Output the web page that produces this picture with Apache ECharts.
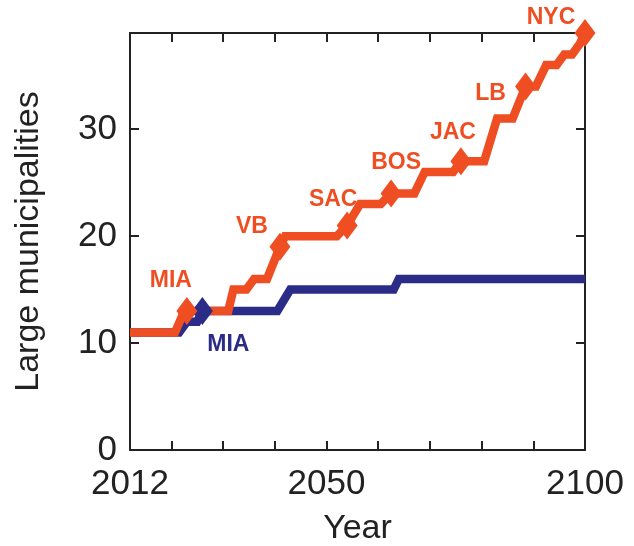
<!DOCTYPE html>
<html>
<head>
<meta charset="utf-8">
<script src="https://cdn.jsdelivr.net/npm/echarts@6/dist/echarts.min.js"></script>
<style>html,body{margin:0;padding:0;background:#fff;}#chart{width:634px;height:546px;}</style>
</head>
<body>
<div id="chart"></div>
<script>
// ---- data ----
const orangeYears  = [2012, 2020.7, 2022.5, 2023, 2031, 2032, 2034.5, 2036, 2038.5, 2041, 2042, 2052, 2054, 2056.5, 2060.5, 2062.5, 2067, 2068, 2069, 2074.5, 2076, 2080.5, 2083, 2086, 2088.5, 2090.5, 2092.5, 2094.5, 2096, 2097.5, 2099, 2100];
const orangeValues = [11,   11,     13,     13,   13,   15,   15,     16,   16,     19,   20,   20,   21,   23,     23,     24,     24,   25,   26,   26,     27,   27,     31,   31,   34,     34,     36,     36,     37,   37,     38,   39];
const blueYears  = [2012, 2021.5, 2023, 2025, 2026, 2040.5, 2043, 2063, 2064, 2100];
const blueValues = [11,   11,     12,   12,   13,   13,     15,   15,   16,   16];

const orangeMarkYears  = [2023, 2041, 2054, 2062.5, 2076, 2088.5, 2100];
const orangeMarkValues = [13,   19,   21,   24,     27,   34,     39];
const orangeMarkNames  = ['MIA', 'VB', 'SAC', 'BOS', 'JAC', 'LB', 'NYC'];
const blueMarkYears  = [2026];
const blueMarkValues = [13];
const blueMarkNames  = ['MIA'];

const xTickYears  = [2020, 2030, 2040, 2050, 2060, 2070, 2080, 2090];
const xLabelYears = [2012, 2050, 2100];
const yTickValues = [0, 10, 20, 30];

// ---- styles ----
const ORANGE = '#EF4E23';
const BLUE = '#2B2C88';
const AXIS = '#222';
const FONT = 'Liberation Sans, Arial, sans-serif';
const orangeLabelOffsets = [[-16,-30],[-28,-20],[-14,-26],[5,-31],[-8,-29],[-35,7],[-34,-15]];
const blueLabelOffsets = [[26,34]];

const zip = (xs, ys) => xs.map((x, i) => [x, ys[i]]);

function markData(xs, ys, names, offsets) {
  return xs.map((x, i) => ({
    value: [x, ys[i]],
    name: names[i],
    label: { offset: offsets[i] }
  }));
}

const axisLineStyle = { color: AXIS, width: 2 };
const plain = v => String(v);

const option = {
  animation: false,
  backgroundColor: '#fff',
  grid: { left: 130, right: 49, top: 33, bottom: 96, containLabel: false, outerBoundsMode: 'none' },
  xAxis: [
    {
      type: 'value', min: 2012, max: 2100, position: 'bottom',
      name: 'Year', nameLocation: 'middle', nameGap: 62,
      nameTextStyle: { fontFamily: FONT, fontSize: 34, color: AXIS },
      axisLine: { show: true, onZero: false, lineStyle: axisLineStyle },
      axisTick: { show: true, inside: true, length: 9, customValues: xTickYears, lineStyle: { color: AXIS, width: 2 } },
      axisLabel: { show: true, customValues: xLabelYears, formatter: plain, fontFamily: FONT, fontSize: 35, color: AXIS, margin: 17 },
      splitLine: { show: false }
    },
    {
      type: 'value', min: 2012, max: 2100, position: 'top',
      axisLine: { show: true, onZero: false, lineStyle: axisLineStyle },
      axisTick: { show: true, inside: true, length: 9, customValues: xTickYears, lineStyle: { color: AXIS, width: 2 } },
      axisLabel: { show: false },
      splitLine: { show: false }
    }
  ],
  yAxis: [
    {
      type: 'value', min: 0, max: 39, position: 'left',
      name: 'Large municipalities', nameLocation: 'middle', nameGap: 84,
      nameTextStyle: { fontFamily: FONT, fontSize: 34, color: AXIS },
      axisLine: { show: true, onZero: false, lineStyle: axisLineStyle },
      axisTick: { show: true, inside: true, length: 9, customValues: yTickValues, lineStyle: { color: AXIS, width: 2 } },
      axisLabel: { show: true, customValues: yTickValues, formatter: plain, fontFamily: FONT, fontSize: 35, color: AXIS, margin: 13 },
      splitLine: { show: false }
    },
    {
      type: 'value', min: 0, max: 39, position: 'right',
      axisLine: { show: true, onZero: false, lineStyle: axisLineStyle },
      axisTick: { show: true, inside: true, length: 9, customValues: yTickValues.slice(1), lineStyle: { color: AXIS, width: 2 } },
      axisLabel: { show: false },
      splitLine: { show: false }
    }
  ],
  series: [
    {
      type: 'line', z: 2, data: zip(blueYears, blueValues), showSymbol: false, symbol: 'none',
      lineStyle: { color: BLUE, width: 8.5, join: 'miter' }, clip: false
    },
    {
      type: 'line', z: 3, data: zip(orangeYears, orangeValues), showSymbol: false, symbol: 'none',
      lineStyle: { color: ORANGE, width: 8.5, join: 'miter' }, clip: false
    },
    {
      type: 'scatter', z: 4, symbol: 'diamond', symbolSize: [21, 28], clip: false,
      itemStyle: { color: BLUE, opacity: 1 },
      data: markData(blueMarkYears, blueMarkValues, blueMarkNames, blueLabelOffsets),
      label: { show: true, position: 'inside', formatter: '{b}', color: BLUE, opacity: 1, fontFamily: FONT, fontWeight: 'bold', fontSize: 23 }
    },
    {
      type: 'scatter', z: 5, symbol: 'diamond', symbolSize: [21, 28], clip: false,
      itemStyle: { color: ORANGE, opacity: 1 },
      data: markData(orangeMarkYears, orangeMarkValues, orangeMarkNames, orangeLabelOffsets),
      label: { show: true, position: 'inside', formatter: '{b}', color: ORANGE, opacity: 1, fontFamily: FONT, fontWeight: 'bold', fontSize: 23 }
    }
  ]
};

const chart = echarts.init(document.getElementById('chart'), null, { renderer: 'canvas' });
chart.setOption(option);
</script>
</body>
</html>
